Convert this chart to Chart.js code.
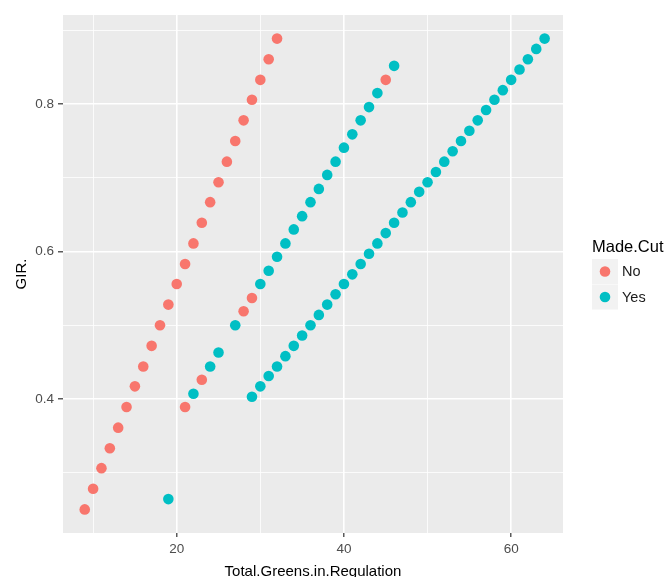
<!DOCTYPE html>
<html>
<head>
<meta charset="utf-8">
<script src="https://cdn.jsdelivr.net/npm/chart.js@4.4.1/dist/chart.umd.min.js"></script>
<style>
    html, body { margin: 0; padding: 0; background: #ffffff; }
    #wrap { width: 668px; height: 577px; }
</style>
</head>
<body>
<div id="wrap"><canvas id="myChart" width="668" height="577"></canvas></div>
<script>
// Made.Cut = No
const noX = [9, 10, 11, 12, 13, 14, 15, 16, 17, 18, 19, 20, 21, 22, 23, 24, 25, 26, 27, 28, 29, 30, 31, 32,
             21, 23, 28, 29, 45];
const noY = [0.250, 0.278, 0.306, 0.333, 0.361, 0.389, 0.417, 0.444, 0.472, 0.500, 0.528, 0.556,
             0.583, 0.611, 0.639, 0.667, 0.694, 0.722, 0.750, 0.778, 0.806, 0.833, 0.861, 0.889,
             0.389, 0.426, 0.519, 0.537, 0.833];

// Made.Cut = Yes
const yesX = [19, 22, 24, 25, 27,
              30, 31, 32, 33, 34, 35, 36, 37, 38, 39, 40, 41, 42, 43, 44, 46,
              29, 30, 31, 32, 33, 34, 35, 36, 37, 38, 39, 40, 41, 42, 43, 44, 45, 46,
              47, 48, 49, 50, 51, 52, 53, 54, 55, 56, 57, 58, 59, 60, 61, 62, 63, 64];
const yesY = [0.264, 0.407, 0.444, 0.463, 0.500,
              0.556, 0.574, 0.593, 0.611, 0.630, 0.648, 0.667, 0.685, 0.704, 0.722, 0.741,
              0.759, 0.778, 0.796, 0.815, 0.852,
              0.403, 0.417, 0.431, 0.444, 0.458, 0.472, 0.486, 0.500, 0.514, 0.528, 0.542,
              0.556, 0.569, 0.583, 0.597, 0.611, 0.625, 0.639, 0.653, 0.667, 0.681, 0.694,
              0.708, 0.722, 0.736, 0.750, 0.764, 0.778, 0.792, 0.806, 0.819, 0.833, 0.847,
              0.861, 0.875, 0.889];

const seriesNames = ["No", "Yes"];
const seriesColors = ["#F8766D", "#00BFC4"];
const legendTitle = "Made.Cut";

// ticks: major ones get labels, minor ones only a thin grid line
const xMajor = [20, 40, 60];
const xMinor = [10, 30, 50];
const yMajor = [0.4, 0.6, 0.8];
const yMinor = [0.3, 0.5, 0.7, 0.9];

function toPoints(xs, ys) {
    return xs.map((x, i) => ({ x: x, y: ys[i] }));
}

// grey panel behind the points
const panelBg = {
    id: "panelBg",
    beforeDraw(chart) {
        const a = chart.chartArea;
        const ctx = chart.ctx;
        ctx.save();
        ctx.fillStyle = "#EBEBEB";
        ctx.fillRect(a.left, a.top, a.right - a.left, a.bottom - a.top);
        ctx.restore();
    }
};

// ggplot style legend on the right
const sideLegend = {
    id: "sideLegend",
    afterDraw(chart) {
        const a = chart.chartArea;
        const ctx = chart.ctx;
        const left = a.right + 29;
        const mid = (a.top + a.bottom) / 2;
        ctx.save();
        ctx.fillStyle = "#000000";
        ctx.font = "16.5px 'Liberation Sans', Arial, sans-serif";
        ctx.textBaseline = "alphabetic";
        ctx.textAlign = "left";
        ctx.fillText(legendTitle, left, mid - 22);
        chart.data.datasets.forEach((ds, i) => {
            const top = mid - 15 + i * 25.5;
            ctx.fillStyle = "#F2F2F2";
            ctx.fillRect(left, top, 26, 25);
            ctx.fillStyle = ds.backgroundColor;
            ctx.beginPath();
            ctx.arc(left + 13, top + 12.5, 5.3, 0, Math.PI * 2);
            ctx.fill();
            ctx.fillStyle = "#1a1a1a";
            ctx.font = "14.5px 'Liberation Sans', Arial, sans-serif";
            ctx.textBaseline = "middle";
            ctx.fillText(ds.label, left + 30, top + 13);
            ctx.textBaseline = "alphabetic";
        });
        ctx.restore();
    }
};

function gridWidth(majors) {
    return c => (c.tick && majors.includes(c.tick.value)) ? 1.6 : 0.8;
}
function tickCol(majors) {
    return c => (c.tick && majors.includes(c.tick.value)) ? "#333333" : "rgba(0,0,0,0)";
}

const ctx = document.getElementById("myChart").getContext("2d");

new Chart(ctx, {
    type: "scatter",
    data: {
        datasets: [
            {
                label: seriesNames[0],
                data: toPoints(noX, noY),
                backgroundColor: seriesColors[0],
                borderWidth: 0,
                pointRadius: 5.3,
                pointHoverRadius: 5.3
            },
            {
                label: seriesNames[1],
                data: toPoints(yesX, yesY),
                backgroundColor: seriesColors[1],
                borderWidth: 0,
                pointRadius: 5.3,
                pointHoverRadius: 5.3
            }
        ]
    },
    options: {
        responsive: false,
        animation: false,
        layout: { padding: { top: 15, right: 105, bottom: 0, left: 0 } },
        plugins: {
            legend: { display: false },
            tooltip: { enabled: false }
        },
        scales: {
            x: {
                type: "linear",
                min: 6.4,
                max: 66.2,
                afterBuildTicks: s => { s.ticks = xMinor.concat(xMajor).sort((p, q) => p - q).map(v => ({ value: v })); },
                afterFit: s => { s.height = 44; },
                border: { display: false },
                grid: {
                    color: "#FFFFFF",
                    lineWidth: gridWidth(xMajor),
                    tickColor: tickCol(xMajor),
                    tickLength: 4,
                    tickWidth: 1.2
                },
                ticks: {
                    padding: 4,
                    color: "#4D4D4D",
                    font: { family: "'Liberation Sans', Arial, sans-serif", size: 13.5 },
                    maxRotation: 0,
                    autoSkip: false,
                    callback: v => xMajor.includes(v) ? String(v) : ""
                },
                title: {
                    display: true,
                    text: "Total.Greens.in.Regulation",
                    color: "#000000",
                    padding: { top: 0, bottom: -4 },
                    font: { family: "'Liberation Sans', Arial, sans-serif", size: 15, lineHeight: 1.2 }
                }
            },
            y: {
                type: "linear",
                min: 0.218,
                max: 0.921,
                afterBuildTicks: s => { s.ticks = yMinor.concat(yMajor).sort((p, q) => p - q).map(v => ({ value: v })); },
                afterFit: s => { s.width = 63; },
                border: { display: false },
                grid: {
                    color: "#FFFFFF",
                    lineWidth: gridWidth(yMajor),
                    tickColor: tickCol(yMajor),
                    tickLength: 5,
                    tickWidth: 1.2
                },
                ticks: {
                    padding: 4,
                    color: "#4D4D4D",
                    font: { family: "'Liberation Sans', Arial, sans-serif", size: 13.5 },
                    autoSkip: false,
                    callback: v => yMajor.includes(v) ? v.toFixed(1) : ""
                },
                title: {
                    display: true,
                    text: "GIR.",
                    color: "#000000",
                    padding: { top: 12.5, bottom: 0 },
                    font: { family: "'Liberation Sans', Arial, sans-serif", size: 15, lineHeight: 1.2 }
                }
            }
        }
    },
    plugins: [panelBg, sideLegend]
});
</script>
</body>
</html>
